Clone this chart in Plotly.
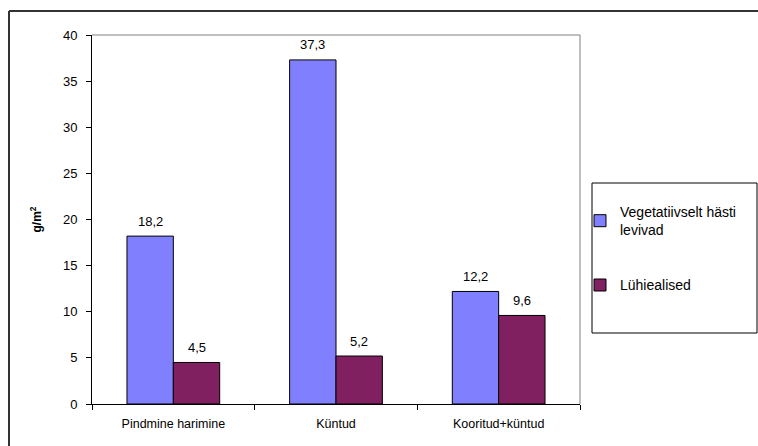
import plotly.graph_objects as go

categories = ["Pindmine harimine", "Küntud", "Kooritud+küntud"]
series_names = ["Vegetatiivselt hästi<br>levivad", "Lühiealised"]
veg_values = [18.2, 37.3, 12.2]
luh_values = [4.5, 5.2, 9.6]
colors = ["#8080FF", "#802060"]
y_ticks = [0, 5, 10, 15, 20, 25, 30, 35, 40]

FONT = "Liberation Sans, Arial, sans-serif"

W, H = 758, 446
L, R, T, B = 92, 580, 35, 404
pw, ph = R - L, B - T
BAR_PX = 46.5

def px(x):
    return (x - L) / pw

def py(y):
    return (B - y) / ph

fig = go.Figure()
annotations = []
all_series = [veg_values, luh_values]
for i, (name, vals) in enumerate(zip(series_names, all_series)):
    fig.add_trace(go.Bar(
        x=categories, y=vals, name=name,
        marker=dict(color=colors[i], line=dict(color="#000000", width=1)),
        legendgroup=str(i),
    ))
    xshift = (i - 0.5) * BAR_PX
    for c, v in zip(categories, vals):
        annotations.append(dict(
            x=c, y=v, xref="x", yref="y",
            text=f"{v:.1f}".replace(".", ","),
            showarrow=False, xshift=xshift, yshift=15,
            xanchor="center", yanchor="middle",
            font=dict(size=13, color="#000000", family=FONT),
        ))

shapes = [
    dict(type="line", xref="paper", yref="paper", x0=0, x1=1, y0=1, y1=1,
         line=dict(color="#808080", width=1)),
    dict(type="line", xref="paper", yref="paper", x0=1, x1=1, y0=0, y1=1,
         line=dict(color="#808080", width=1)),
    dict(type="line", xref="paper", yref="paper", x0=px(9), x1=px(820), y0=py(11), y1=py(11),
         line=dict(color="#333333", width=2)),
    dict(type="line", xref="paper", yref="paper", x0=px(9), x1=px(9), y0=py(11), y1=py(480),
         line=dict(color="#333333", width=2)),
    dict(type="rect", xref="paper", yref="paper", x0=px(592), x1=px(757), y0=py(333), y1=py(183),
         line=dict(color="#000000", width=1)),
]

fig.update_layout(
    width=W, height=H,
    margin=dict(l=L, r=W - R, t=T, b=H - B, pad=0),
    paper_bgcolor="white", plot_bgcolor="white",
    font=dict(family=FONT, size=12, color="#000000"),
    barmode="group", bargap=0.43, bargroupgap=0,
    showlegend=True,
    legend=dict(x=px(580), y=py(196), xanchor="left", yanchor="top",
                bgcolor="rgba(0,0,0,0)", borderwidth=0,
                font=dict(size=14, family=FONT),
                tracegroupgap=34, traceorder="grouped",
                itemwidth=30),
    shapes=shapes,
    annotations=annotations,
    xaxis=dict(showline=True, linecolor="#000000", linewidth=1,
               ticks="outside", ticklen=5, tickcolor="#000000",
               tickson="boundaries", showgrid=False, ticklabelstandoff=8,
               tickfont=dict(size=12.5, family=FONT)),
    yaxis=dict(range=[0, 40], tickvals=y_ticks, showline=True,
               linecolor="#000000", linewidth=1, ticks="outside", ticklen=5,
               tickcolor="#000000", showgrid=False, zeroline=False,
               ticklabelstandoff=6,
               tickfont=dict(size=13, family=FONT),
               title=dict(text="<b>g/m<sup>2</sup></b>", standoff=18,
                          font=dict(size=12, family=FONT))),
)

fig.write_html("out.html", config={"displayModeBar": False})
